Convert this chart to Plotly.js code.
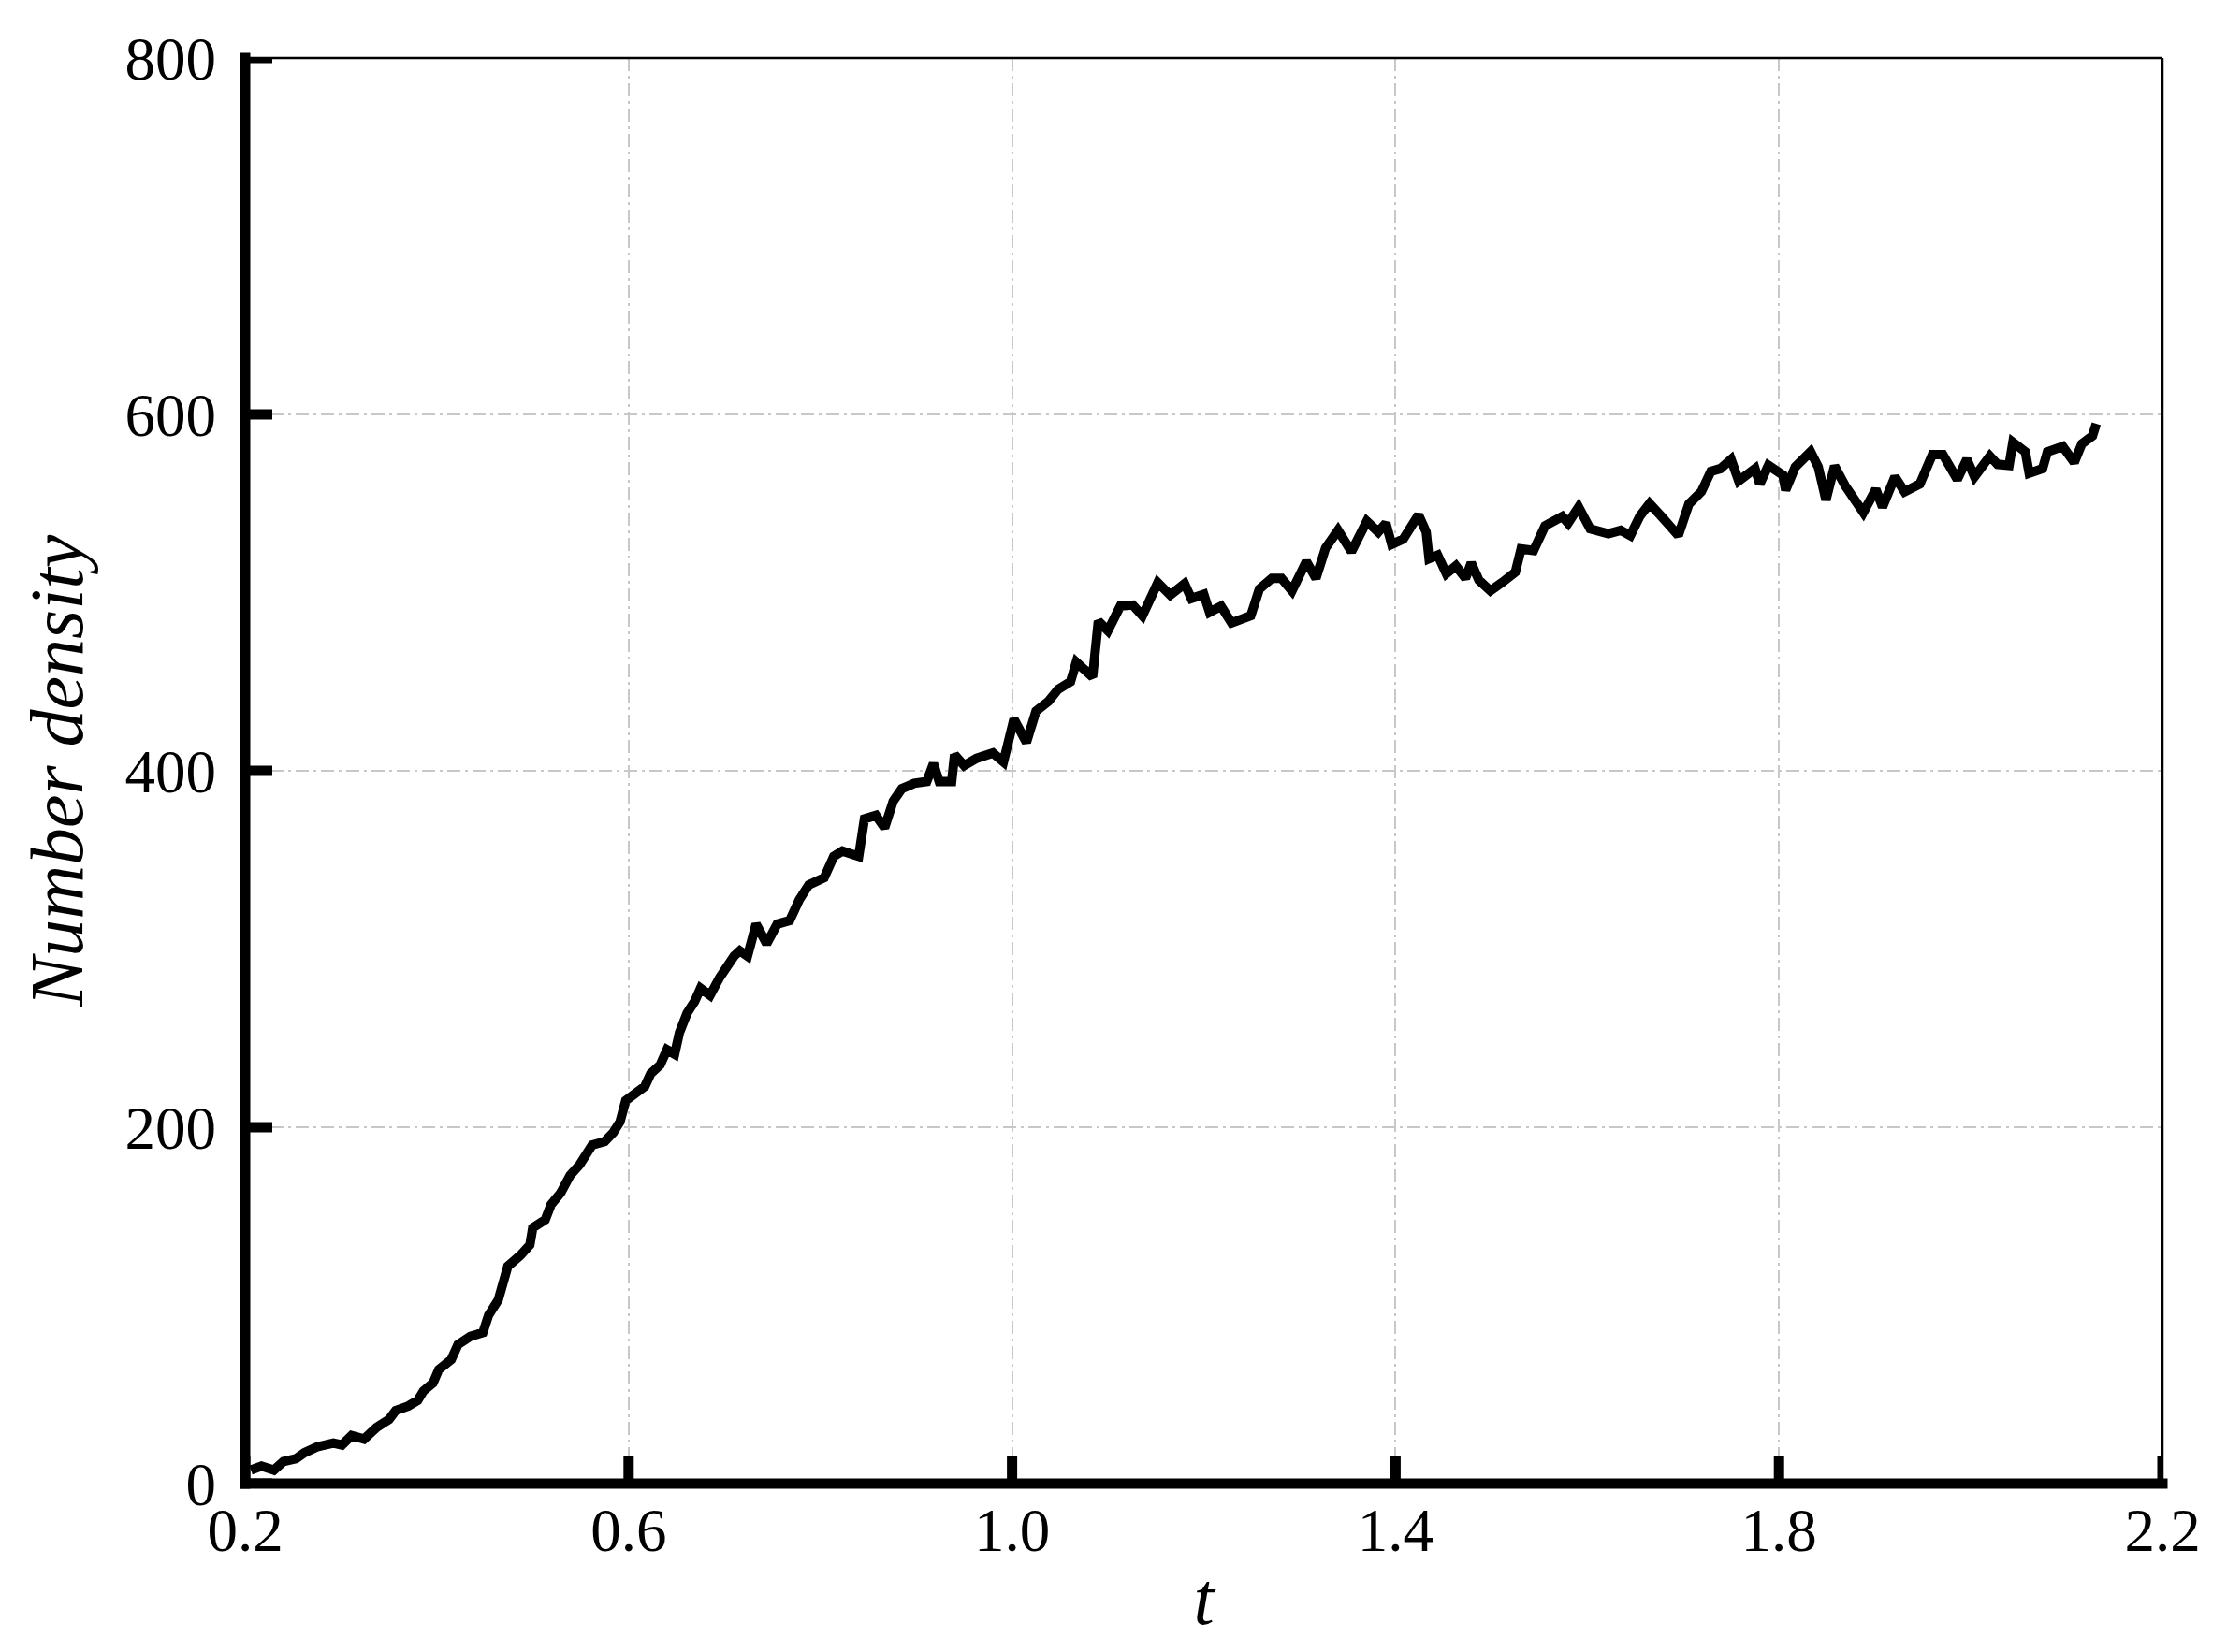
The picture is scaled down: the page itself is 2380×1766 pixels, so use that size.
<!DOCTYPE html>
<html>
<head>
<meta charset="utf-8">
<script src="https://cdn.plot.ly/plotly-3.0.1.min.js"></script>
<style>html,body{margin:0;padding:0;background:#fff;}#chart{width:2380px;height:1766px;}</style>
</head>
<body>
<div id="chart"></div>
<script>
// Time values (t)
var tValues = [
  0.206,0.217,0.23,0.24,0.253,0.262,0.275,0.292,0.301,0.311,0.324,0.337,0.35,0.357,0.37,0.38,0.386,0.396,0.402,0.415,
  0.422,0.435,0.448,0.454,0.464,0.47,0.474,0.487,0.497,0.5,0.513,0.519,0.529,0.539,0.549,0.562,0.575,0.584,0.591,0.597,
  0.607,0.617,0.623,0.633,0.64,0.648,0.653,0.661,0.669,0.675,0.685,0.695,
  0.71,0.716,0.724,0.733,0.744,0.755,0.768,0.778,0.788,0.804,0.814,0.823,0.84,0.846,0.858,0.867,0.876,0.885,0.898,0.911,
  0.918,0.924,0.937,0.94,0.95,0.963,0.98,0.991,1.002,1.015,1.025,1.038,1.048,1.061,1.067,1.084,1.09,1.1,1.113,1.126,
  1.136,1.152,1.165,
  1.18,1.187,1.2,1.206,1.218,1.229,1.249,1.258,1.271,1.281,1.292,1.307,1.317,1.327,1.34,1.354,1.37,1.382,1.39,1.396,
  1.408,1.424,1.432,1.435,1.444,1.453,1.463,1.473,1.479,1.487,1.499,1.512,1.525,1.531,1.544,1.556,1.574,1.58,1.591,1.603,
  1.622,1.635,1.645,1.655,1.665,1.677,
  1.695,1.706,1.719,1.729,1.739,1.75,1.758,1.775,1.78,1.789,1.804,1.807,1.817,1.833,1.841,1.849,1.858,1.869,1.888,1.901,
  1.908,1.921,1.931,1.947,1.96,1.971,1.986,1.996,2.004,2.02,2.028,2.04,2.044,2.057,2.061,2.075,2.08,2.096,2.108,2.116,
  2.127,2.131
];
// Number density values
var densityValues = [
  7.6,9.8,7.6,12.4,14,17.4,20.6,22.8,21.7,27,25,31.5,36,41,43.5,46.7,52,56.5,64,69.6,
  78,82.6,84.8,94.6,103,114,122,128,134,143.5,148,156.5,163,173,179,190,192,197,203,215,
  219.6,223,230,235,243.5,241,253,264,270.7,278,274,284,
  296,299,296,314,303,314,316,327.6,336,340,352,355,352,373,375,368,383,390,393,394,
  404,394,394,409,403,407,410,405,429,416,433.5,439,445.7,450,461,452.6,484,478.6,492.5,493,
  487,505.6,498.6,
  505,496.7,499,489,492.4,483,487,502,508,508,501,517.5,508,525,535,523,540,534,539,527,
  530,543.6,534,519,521,510.6,515,508,516.7,507,501,506,511.5,524.5,523.6,537.5,542.7,539,548,535.8,
  533,535,532,543,550,543,
  532,549.7,556.6,568,569.6,574.8,562.7,569.6,561,571.4,566,557.5,570.5,579,570.5,552,571,560,545,558,
  548,565,556.6,561,577.4,577.4,563.5,574.8,565,576.6,572,571.4,584.4,579,567,569.6,579,582,573,583.5,
  588,594.8
];
var xTickVals = [0.2, 0.6, 1.0, 1.4, 1.8, 2.2];
var xTickText = ['0.2', '0.6', '1.0', '1.4', '1.8', '2.2'];
var yTickVals = [0, 200, 400, 600, 800];
var yTickText = ['0', '200', '400', '600', '800'];
var xRange = [0.2, 2.2];
var yRange = [0, 800];
var xTitle = 't';
var yTitle = 'Number density';

var W = 2380, H = 1766;
var M = {l: 262, r: 69, t: 62, b: 180};
var plotW = W - M.l - M.r, plotH = H - M.t - M.b;
var thick = 11, half = thick / 2;
var stubLen = 29;
var ex = half / plotW, ey = half / plotH;
var yUnitsPerPx = (yRange[1] - yRange[0]) / plotH;

var serif = 'Liberation Serif, Times New Roman, serif';
var gridDash = '14px,5px,3px,5px';
var gridColor = '#c8c8c8';

var trace = {
  x: tValues,
  y: densityValues,
  type: 'scatter',
  mode: 'lines',
  line: {color: '#000000', width: 10},
  hoverinfo: 'skip'
};

function axisBase() {
  return {
    ticks: 'inside',
    ticklen: stubLen,
    tickwidth: thick,
    tickcolor: 'rgba(0,0,0,0)',
    gridcolor: gridColor,
    gridwidth: 2,
    griddash: gridDash,
    zeroline: false,
    showline: false,
    tickfont: {family: serif, size: 65, color: '#000000'}
  };
}

var shapes = [];
// horizontal grid lines at the y tick values (drawn below the data)
yTickVals.forEach(function (v) {
  shapes.push({type: 'line', layer: 'below', xref: 'paper', yref: 'y', x0: 0, x1: 1, y0: v, y1: v,
    line: {color: gridColor, width: 2, dash: gridDash}});
});
// frame: thick left/bottom axes, thin top/right
shapes.push(
  {type: 'line', xref: 'paper', yref: 'paper', x0: 0, x1: 0, y0: -ey, y1: 1 + ey, line: {color: '#000000', width: thick}},
  {type: 'line', xref: 'paper', yref: 'paper', x0: -ex, x1: 1 + ex, y0: 0, y1: 0, line: {color: '#000000', width: thick}},
  {type: 'line', xref: 'paper', yref: 'paper', x0: 0, x1: 1, y0: 1, y1: 1, line: {color: '#000000', width: 2.5}},
  {type: 'line', xref: 'paper', yref: 'paper', x0: 1, x1: 1, y0: 0, y1: 1, line: {color: '#000000', width: 2.5}}
);
// inward tick stubs, placed by the axes at the tick values
xTickVals.forEach(function (v) {
  shapes.push({type: 'line', xref: 'x', yref: 'paper', x0: v, x1: v, y0: 0, y1: stubLen / plotH,
    line: {color: '#000000', width: thick}});
});
yTickVals.forEach(function (v) {
  shapes.push({type: 'rect', xref: 'paper', yref: 'y', x0: 0, x1: stubLen / plotW,
    y0: v - half * yUnitsPerPx, y1: v + half * yUnitsPerPx,
    fillcolor: '#000000', line: {width: 0}});
});

var layout = {
  width: W,
  height: H,
  margin: {l: M.l, r: M.r, t: M.t, b: M.b, pad: 0},
  paper_bgcolor: '#ffffff',
  plot_bgcolor: '#ffffff',
  showlegend: false,
  xaxis: Object.assign(axisBase(), {
    showgrid: true,
    range: xRange,
    tickmode: 'array',
    tickvals: xTickVals,
    ticktext: xTickText,
    ticklabelstandoff: 6,
    title: {text: xTitle, font: {family: serif, size: 80, color: '#000000', style: 'italic'}, standoff: 8}
  }),
  yaxis: Object.assign(axisBase(), {
    showgrid: false,
    range: yRange,
    tickmode: 'array',
    tickvals: yTickVals,
    ticktext: yTickText,
    ticklabelstandoff: 30,
    title: {text: yTitle, font: {family: serif, size: 80, color: '#000000', style: 'italic'}, standoff: 18}
  }),
  shapes: shapes
};

Plotly.newPlot('chart', [trace], layout, {displayModeBar: false, staticPlot: true});
</script>
</body>
</html>
